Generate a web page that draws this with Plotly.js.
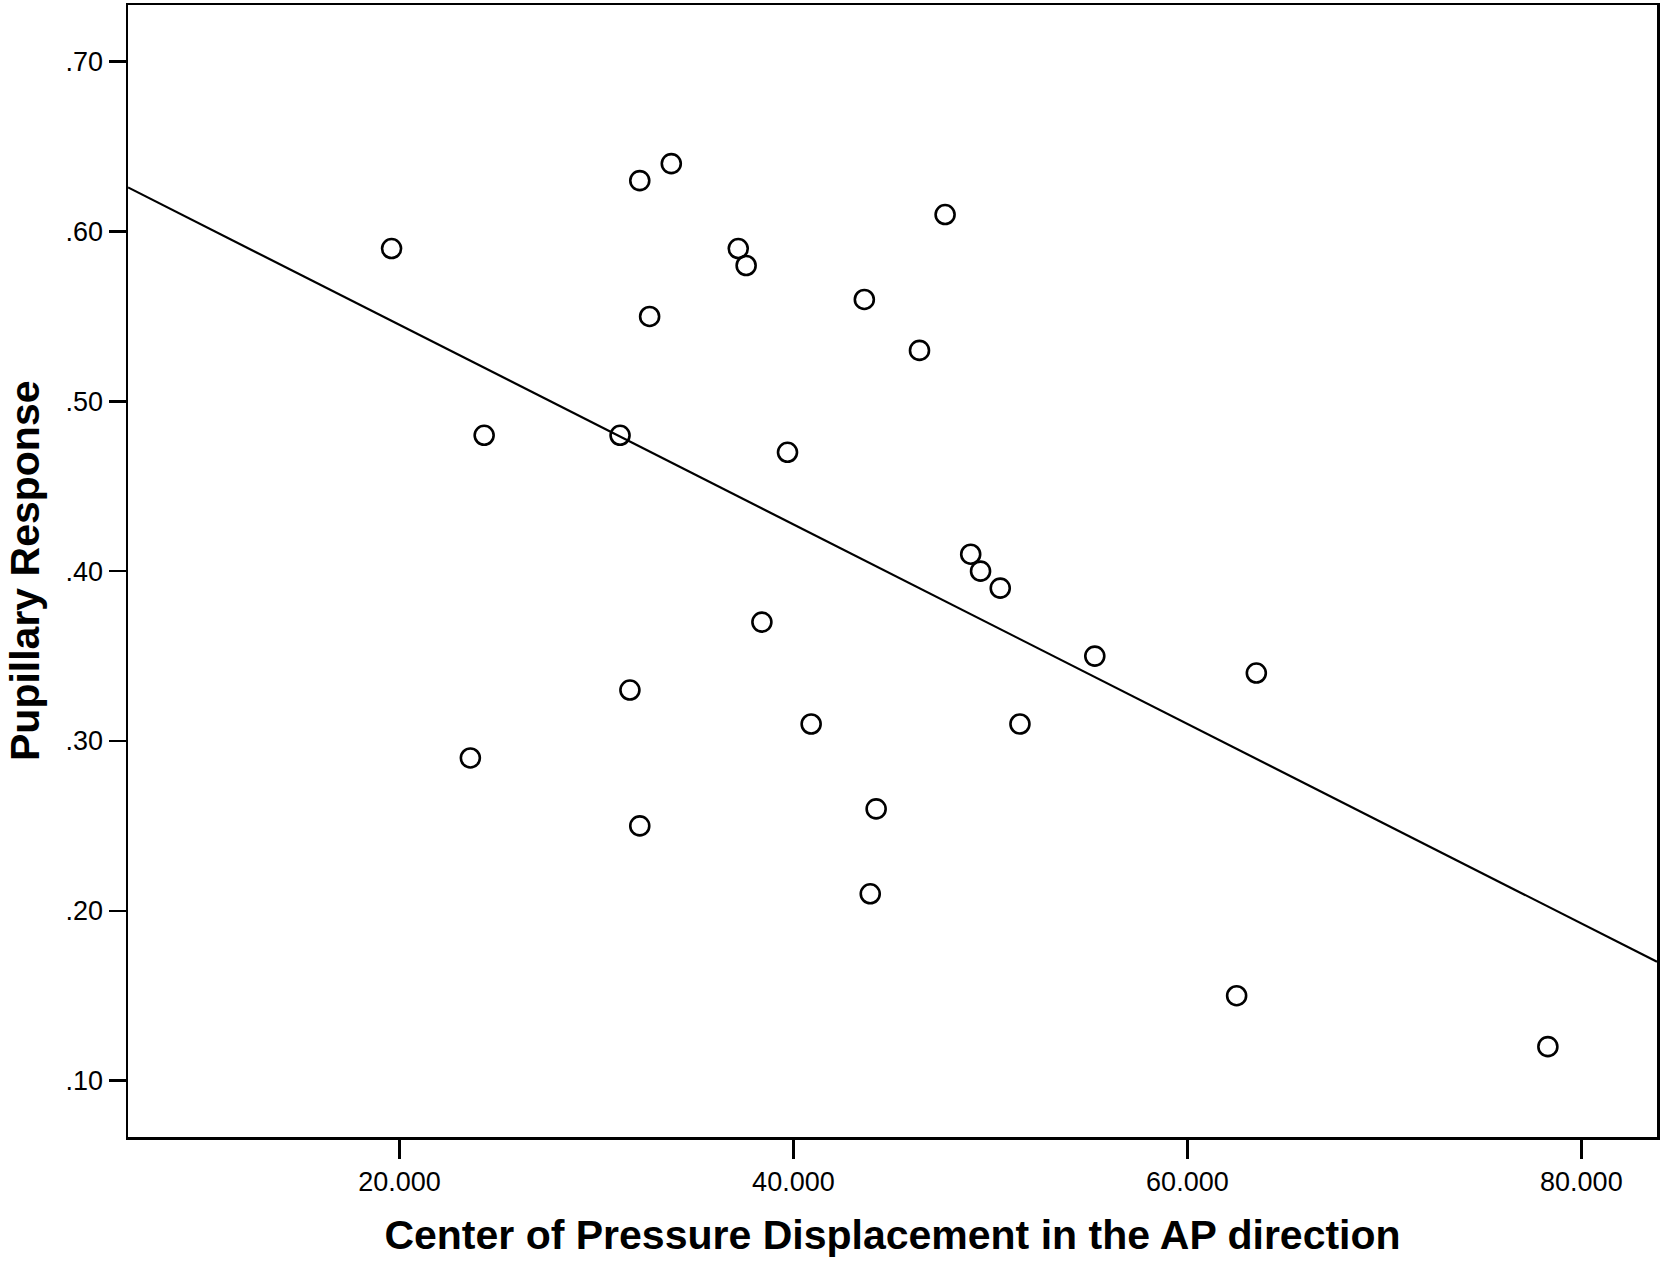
<!DOCTYPE html>
<html>
<head>
<meta charset="utf-8">
<script src="https://cdn.plot.ly/plotly-3.0.1.min.js"></script>
<style>
  html, body { margin: 0; padding: 0; background: #fff; }
  #plot { width: 1664px; height: 1264px; }
</style>
</head>
<body>
<div id="plot"></div>
<script>
// COP displacement (AP) vs pupillary response
const copAP = [19.6, 24.3, 23.6, 31.2, 32.2, 33.8, 32.7, 31.7, 32.2, 37.2,
  37.6, 38.4, 39.7, 40.9, 43.6, 43.9, 44.2, 46.4, 47.7, 49.0,
  49.5, 50.5, 51.5, 55.3, 63.5, 62.5, 78.3];
const pupil = [0.59, 0.48, 0.29, 0.48, 0.63, 0.64, 0.55, 0.33, 0.25, 0.59,
  0.58, 0.37, 0.47, 0.31, 0.56, 0.21, 0.26, 0.53, 0.61, 0.41,
  0.40, 0.39, 0.31, 0.35, 0.34, 0.15, 0.12];

// fit line end points, as drawn at the frame edges
const fitX = [6.22, 83.84];
const fitY = [0.626, 0.170];

const xTickVals = [20, 40, 60, 80];
const xTickText = ["20.000", "40.000", "60.000", "80.000"];
const yTickVals = [0.1, 0.2, 0.3, 0.4, 0.5, 0.6, 0.7];
const yTickText = [".10", ".20", ".30", ".40", ".50", ".60", ".70"];

const plotDiv = document.getElementById("plot");

const fit = {
  x: fitX,
  y: fitY,
  type: "scatter",
  mode: "lines",
  line: { color: "#000", width: 2.2 },
  hoverinfo: "skip",
};

const pts = {
  x: copAP,
  y: pupil,
  type: "scatter",
  mode: "markers",
  marker: {
    symbol: "circle-open",
    size: 19,
    color: "#000",
    line: { color: "#000", width: 2.6 },
  },
};

const axisCommon = {
  showline: true,
  linecolor: "#000",
  linewidth: 2.5,
  mirror: true,
  showgrid: false,
  zeroline: false,
  ticks: "outside",
  tickcolor: "#000",
  tickwidth: 2.5,
  tickmode: "array",
  tickfont: { family: "Liberation Sans, Arial, sans-serif", size: 27, color: "#000" },
};

const titleFont = { family: "Liberation Sans, Arial, sans-serif", size: 41, color: "#000", weight: "bold" };

const layout = {
  width: 1664,
  height: 1264,
  showlegend: false,
  paper_bgcolor: "#fff",
  plot_bgcolor: "#fff",
  margin: { l: 128, r: 7, t: 5, b: 127 },
  xaxis: Object.assign({}, axisCommon, {
    range: [6.22, 83.84],
    tickvals: xTickVals,
    ticktext: xTickText,
    ticklen: 19,
    title: {
      text: "Center of Pressure Displacement in the AP direction",
      font: titleFont,
      standoff: 25,
    },
  }),
  yaxis: Object.assign({}, axisCommon, {
    range: [0.0668, 0.7334],
    tickvals: yTickVals,
    ticktext: yTickText,
    ticklen: 17,
  }),
  annotations: [{
    text: "Pupillary Response",
    font: titleFont,
    textangle: -90,
    xref: "paper",
    yref: "paper",
    x: 0,
    y: 0.5,
    xanchor: "center",
    yanchor: "middle",
    xshift: -103,
    showarrow: false,
  }],
};

Plotly.newPlot(plotDiv, [fit, pts], layout, { displayModeBar: false, staticPlot: true });
</script>
</body>
</html>
